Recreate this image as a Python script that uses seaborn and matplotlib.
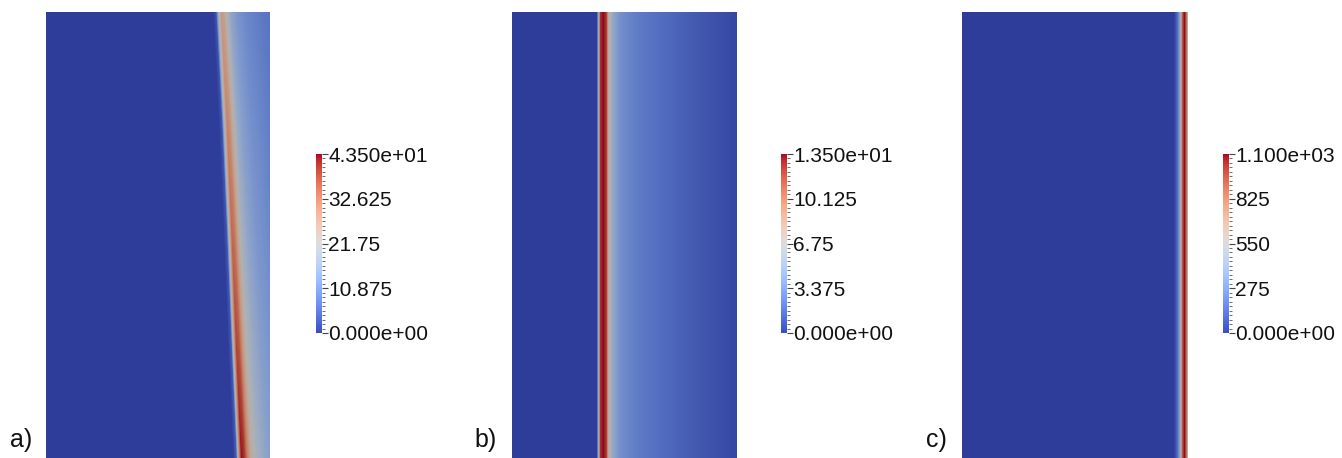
import numpy as np
import matplotlib
matplotlib.use("Agg")
import matplotlib.pyplot as plt
import seaborn as sns
from matplotlib.colors import ListedColormap, Normalize
from matplotlib.cm import ScalarMappable

sns.set_theme(style="white")
plt.rcParams['font.family'] = ['Liberation Sans', 'DejaVu Sans']

# ---------------- data ----------------
PANEL_NAMES = ["a)", "b)", "c)"]
VMAX = [43.5, 13.5, 1100.0]
CB_LABELS_A = ["0.000e+00", "10.875", "21.75", "32.625", "4.350e+01"]
CB_LABELS_B = ["0.000e+00", "3.375", "6.75", "10.125", "1.350e+01"]
CB_LABELS_C = ["0.000e+00", "275", "550", "825", "1.100e+03"]

# panel a: ridge drifts across the domain, grows towards the bottom
A_ROW_FRAC = [0.0, 0.25, 0.5, 0.75, 1.0]
A_RIDGE_X = [0.782, 0.808, 0.830, 0.850, 0.872]
A_PEAK = [28.0, 31.5, 35.0, 39.0, 43.0]
A_OFFSET = [-0.036, -0.022, -0.013, 0.0, 0.013, 0.027, 0.045, 0.071, 0.11, 0.18, 0.27]
A_SHAPE = [0.0, 0.10, 0.60, 1.0, 0.95, 0.75, 0.56, 0.45, 0.36, 0.28, 0.22]

# panel b: stationary front, tail to the right
B_X = [0.0, 0.374, 0.382, 0.390, 0.404, 0.418, 0.428, 0.445, 0.48, 0.55, 0.65, 0.80, 1.0]
B_VAL = [0.0, 0.0, 4.0, 12.5, 13.5, 12.5, 7.5, 5.2, 3.5, 2.6, 2.0, 1.2, 0.4]

# panel c: thin front at the right boundary
C_X = [0.0, 0.940, 0.955, 0.968, 0.976, 0.986, 0.994, 1.0]
C_VAL = [0.0, 0.0, 150.0, 420.0, 900.0, 1100.0, 950.0, 600.0]

# ---------------- layout ----------------
W, H = 1342, 458
fig = plt.figure(figsize=(W / 100, H / 100), dpi=100)

FIELD_LEFT = [46, 512, 962]
FIELD_W = [224, 225, 226]
FIELD_TOP = 12
CB_LEFT = [315.5, 780.5, 1222.5]
CB_TOP, CB_BOT = 154, 333
LABEL_X = [10, 474, 926]

base = plt.get_cmap("coolwarm")
cols = base(np.linspace(0, 1, 256))
cols[:, :3] *= 0.80
field_cmap = ListedColormap(cols)

nx = 450
xs = np.linspace(0, 1, nx)

def field_a():
    ny = 200
    rows = []
    for yf in np.linspace(0, 1, ny):
        ridge = np.interp(yf, A_ROW_FRAC, A_RIDGE_X)
        peak = np.interp(yf, A_ROW_FRAC, A_PEAK)
        rows.append(peak * np.interp(xs - ridge, A_OFFSET, A_SHAPE, left=0.0, right=A_SHAPE[-1]))
    return np.array(rows)

def field_1d(px, pv):
    row = np.interp(xs, px, pv)
    return np.vstack([row, row])

fields = [field_a(), field_1d(B_X, B_VAL), field_1d(C_X, C_VAL)]
cb_labels = [CB_LABELS_A, CB_LABELS_B, CB_LABELS_C]

for i in range(3):
    ax = fig.add_axes([FIELD_LEFT[i] / W, 0, FIELD_W[i] / W, (H - FIELD_TOP) / H])
    sns.heatmap(fields[i], ax=ax, cmap=field_cmap, vmin=0, vmax=VMAX[i],
                cbar=False, xticklabels=False, yticklabels=False)
    ax.set_axis_off()

    cax = fig.add_axes([CB_LEFT[i] / W, 1 - CB_BOT / H, 6 / W, (CB_BOT - CB_TOP) / H])
    sm = ScalarMappable(norm=Normalize(0, VMAX[i]), cmap="coolwarm")
    cb = fig.colorbar(sm, cax=cax)
    cb.outline.set_visible(False)
    cb.set_ticks(np.linspace(0, VMAX[i], 5))
    cb.set_ticklabels(cb_labels[i])
    cax.yaxis.set_ticks(np.linspace(0, VMAX[i], 41), minor=True)
    cax.tick_params(which="major", right=True, length=4, width=0.8, color="#444444",
                    pad=1, labelsize=15, labelcolor="#111111")
    cax.tick_params(which="minor", right=True, length=2.5, width=0.6, color="#555555")

    fig.text(LABEL_X[i] / W, 1 - 447 / H, PANEL_NAMES[i], fontsize=18,
             va="baseline", ha="left", color="#111111")

fig.savefig("out.png", dpi=100)
